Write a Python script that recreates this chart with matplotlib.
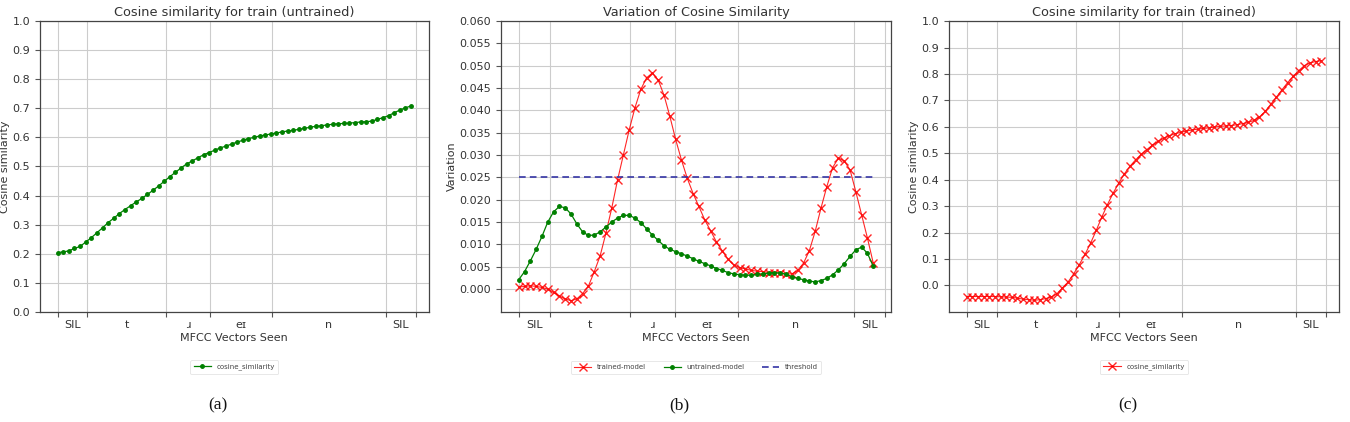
import matplotlib
matplotlib.use("Agg")
import matplotlib.pyplot as plt
import numpy as np

# phone segmentation of the word "train"
phones = ["SIL", "t", "ɹ", "eɪ", "n", "SIL"]
bounds_ac = [0, 5.3, 19.4, 27.1, 38.2, 58.5, 63.8]
bounds_b = [0, 5.35, 19.15, 26.9, 37.7, 57.7, 63.1]

# (a) cosine similarity, untrained model
cos_untrained = [
    0.204, 0.206, 0.210, 0.218, 0.225, 0.240, 0.255, 0.272, 0.289, 0.307,
    0.322, 0.338, 0.352, 0.365, 0.378, 0.390, 0.404, 0.418, 0.433, 0.449,
    0.465, 0.480, 0.495, 0.509, 0.519, 0.530, 0.540, 0.548, 0.556, 0.564,
    0.570, 0.577, 0.584, 0.590, 0.596, 0.600, 0.605, 0.608, 0.612, 0.615,
    0.619, 0.622, 0.624, 0.628, 0.631, 0.635, 0.638, 0.640, 0.643, 0.645,
    0.647, 0.648, 0.649, 0.651, 0.653, 0.654, 0.656, 0.662, 0.668, 0.675,
    0.685, 0.694, 0.702, 0.708,
]

# (c) cosine similarity, trained model
cos_trained = [
    -0.042, -0.042, -0.042, -0.042, -0.042, -0.042, -0.043, -0.044, -0.045, -0.048,
    -0.052, -0.054, -0.056, -0.054, -0.050, -0.044, -0.032, -0.009, 0.013, 0.044,
    0.079, 0.117, 0.160, 0.208, 0.259, 0.306, 0.349, 0.387, 0.422, 0.451,
    0.475, 0.496, 0.514, 0.531, 0.545, 0.557, 0.566, 0.574, 0.579, 0.584,
    0.588, 0.591, 0.594, 0.596, 0.599, 0.602, 0.603, 0.605, 0.608, 0.612,
    0.617, 0.624, 0.637, 0.658, 0.685, 0.712, 0.740, 0.767, 0.791, 0.813,
    0.832, 0.842, 0.847, 0.850,
]

# (b) variation of cosine similarity
var_trained = [
    0.00045, 0.0006, 0.00074, 0.0006, 0.00037, 0.0, -0.00074, -0.0016, -0.0022, -0.0026,
    -0.0022, -0.0010, 0.0007, 0.0039, 0.0074, 0.0125, 0.0181, 0.0244, 0.0300, 0.0356,
    0.0406, 0.0447, 0.0473, 0.0484, 0.0468, 0.0434, 0.0387, 0.0335, 0.0289, 0.0248,
    0.0214, 0.0185, 0.0155, 0.0131, 0.0106, 0.0086, 0.0067, 0.0054, 0.0048, 0.0045,
    0.0042, 0.0040, 0.0039, 0.0037, 0.0036, 0.0035, 0.0034, 0.0034, 0.0042, 0.0058,
    0.0086, 0.0129, 0.0181, 0.0229, 0.0272, 0.0293, 0.0287, 0.0267, 0.0218, 0.0166,
    0.0114, 0.0058,
]
var_untrained = [
    0.0021, 0.0039, 0.0063, 0.0089, 0.0118, 0.0150, 0.0173, 0.0185, 0.0182, 0.0168,
    0.0146, 0.0128, 0.0120, 0.0121, 0.0128, 0.0139, 0.0150, 0.0159, 0.0165, 0.0165,
    0.0159, 0.0149, 0.0135, 0.0121, 0.0109, 0.0097, 0.0089, 0.0084, 0.0079, 0.0074,
    0.0068, 0.0062, 0.0057, 0.0052, 0.0046, 0.0042, 0.0037, 0.0034, 0.0032, 0.0031,
    0.0031, 0.0033, 0.0034, 0.0036, 0.0037, 0.0036, 0.0033, 0.0028, 0.0024, 0.0021,
    0.0018, 0.0016, 0.0019, 0.0024, 0.0032, 0.0043, 0.0057, 0.0073, 0.0088, 0.0094,
    0.0080, 0.0051,
]
threshold = 0.025

FS = 8
TXT = "#333333"


def phone_axis(ax, bounds):
    """Major ticks on phone boundaries (with grid), labels at phone centres"""
    mids = [(bounds[k] + bounds[k + 1]) / 2 for k in range(len(bounds) - 1)]
    ax.set_xticks(bounds)
    ax.set_xticklabels([])
    ax.set_xticks(mids, minor=True)
    ax.set_xticklabels(phones, minor=True, fontsize=FS, color=TXT)
    ax.tick_params(axis="x", which="minor", length=0, pad=6)
    ax.tick_params(axis="x", which="major", length=3.5, color="#555555")
    ax.tick_params(axis="y", labelsize=FS, labelcolor=TXT, color="#555555", length=3.5)
    ax.grid(True, which="major", color="#cccccc", linewidth=0.8)
    ax.set_axisbelow(True)
    ax.set_xlabel("MFCC Vectors Seen", fontsize=FS, color=TXT, labelpad=2)
    for s in ax.spines.values():
        s.set_color("#444444")
        s.set_linewidth(0.9)


fig = plt.figure(figsize=(13.5, 4.22), dpi=100)
ax_a = fig.add_axes([0.0296, 0.261, 0.288, 0.689])
ax_b = fig.add_axes([0.3711, 0.261, 0.2889, 0.689])
ax_c = fig.add_axes([0.703, 0.261, 0.2889, 0.689])

TITLE_FS = 9.3

# (a)
x_a = np.arange(len(cos_untrained))
ax_a.plot(x_a, cos_untrained, color="green", marker="o", markersize=2.5,
          linewidth=0.9, label="cosine_similarity")
ax_a.set_ylim(0, 1.0)
ax_a.set_yticks(np.arange(0, 1.01, 0.1))
ax_a.set_yticklabels([f"{v:.1f}" for v in np.arange(0, 1.01, 0.1)])
ax_a.set_ylabel("Cosine similarity", fontsize=FS, color=TXT, labelpad=2)
ax_a.set_title("Cosine similarity for train (untrained)", fontsize=TITLE_FS, color=TXT, pad=4)
phone_axis(ax_a, bounds_ac)

# (b)
x_b = np.arange(len(var_trained))
ax_b.plot(x_b, var_trained, color="red", marker="x", markersize=6, linewidth=0.8,
          alpha=0.85, label="trained-model")
ax_b.plot(x_b, var_untrained, color="green", marker="o", markersize=2.5, linewidth=0.9,
          label="untrained-model")
ax_b.plot(x_b, [threshold] * len(x_b), color="#3535a5", linestyle="--", linewidth=1.2,
          dashes=(4, 2.5), label="threshold")
ax_b.set_ylim(-0.0051, 0.060)
yt = np.arange(0, 0.0601, 0.005)
ax_b.set_yticks(yt)
ax_b.set_yticklabels([f"{v:.3f}" for v in yt])
ax_b.set_ylabel("Variation", fontsize=FS, color=TXT, labelpad=2)
ax_b.set_title("Variation of Cosine Similarity", fontsize=TITLE_FS, color=TXT, pad=4)
phone_axis(ax_b, bounds_b)

# (c)
x_c = np.arange(len(cos_trained))
ax_c.plot(x_c, cos_trained, color="red", marker="x", markersize=6, linewidth=0.8,
          alpha=0.85, label="cosine_similarity")
ax_c.set_ylim(-0.1, 1.0)
ax_c.set_yticks(np.arange(0, 1.01, 0.1))
ax_c.set_yticklabels([f"{v:.1f}" for v in np.arange(0, 1.01, 0.1)])
ax_c.set_ylabel("Cosine similarity", fontsize=FS, color=TXT, labelpad=2)
ax_c.set_title("Cosine similarity for train (trained)", fontsize=TITLE_FS, color=TXT, pad=4)
phone_axis(ax_c, bounds_ac)

# legends below each panel
for ax, nc in [(ax_a, 1), (ax_b, 3), (ax_c, 1)]:
    leg = ax.legend(loc="center", bbox_to_anchor=(0.5, -0.19), ncol=nc,
                    fontsize=5, frameon=True, handlelength=2.5, columnspacing=2.5,
                    borderpad=0.5)
    leg.get_frame().set_edgecolor("#dddddd")
    leg.get_frame().set_linewidth(0.6)
    for t in leg.get_texts():
        t.set_color("#444444")

# sub-figure captions
for ax, cap in [(ax_a, "(a)"), (ax_b, "(b)"), (ax_c, "(c)")]:
    pos = ax.get_position()
    fig.text(pos.x0 + pos.width / 2 - 0.012, 0.04, cap, ha="center", va="center",
             fontsize=12.5, family="Liberation Serif", color="#111111")

fig.savefig("out.png", dpi=100)
